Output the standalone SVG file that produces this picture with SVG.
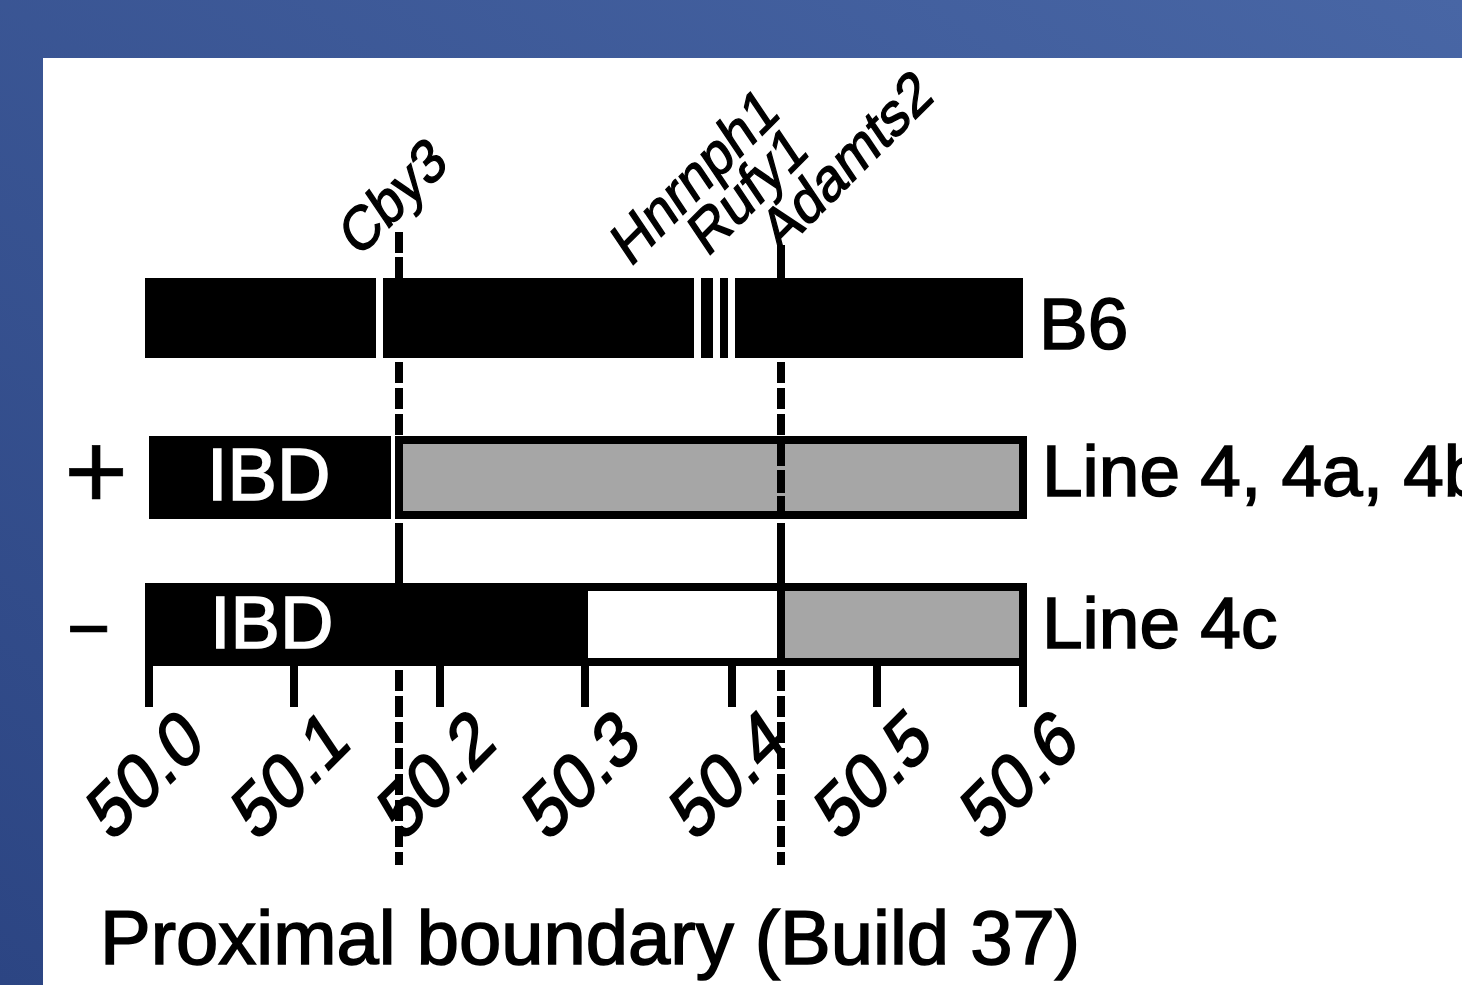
<svg xmlns="http://www.w3.org/2000/svg" width="1462" height="985" viewBox="0 0 1462 985">
  <defs>
    <linearGradient id="bg" x1="0" y1="1" x2="1" y2="0">
      <stop offset="0" stop-color="#2c4583"/>
      <stop offset="1" stop-color="#4866a5"/>
    </linearGradient>
  </defs>
  <style>
    .t { font-family: "Liberation Sans", Arial, sans-serif; fill: #000; stroke: #000; stroke-width: 1.6px; }
    .lab { font-size: 73px; }
    .ibd { font-size: 74px; fill: #fff; stroke: #fff; }
    .gene { font-size: 51px; stroke-width: 1.2px; }
    .tick { font-size: 64px; }
    .blk { fill: #000; }
    .gry { fill: #a6a6a6; }
    .wht { fill: #fff; }
    .vl { stroke: #000; stroke-width: 8; fill: none; }
    .dash { stroke-dasharray: 21 5; }
  </style>

  <rect x="0" y="0" width="1462" height="985" fill="url(#bg)"/>
  <rect x="43" y="58" width="1419" height="927" fill="#fff"/>

  <!-- B6 -->
  <g id="node-b6">
    <rect class="blk" x="145" y="278" width="878" height="80"/>
    <rect class="wht" x="376" y="278" width="7" height="80"/>
    <rect class="wht" x="694" y="278" width="7" height="80"/>
    <rect class="wht" x="713" y="278" width="7" height="80"/>
    <rect class="wht" x="728" y="278" width="7" height="80"/>
    <text class="t lab" x="1039" y="349">B6</text>
  </g>

  <!-- Line 4, 4a, 4b -->
  <g id="node-line4">
    <rect class="blk" x="149" y="436" width="242" height="83"/>
    <rect class="gry" x="399" y="440" width="624" height="75" stroke="#000" stroke-width="8"/>
    <text class="t ibd" x="207" y="500">IBD</text>
    <text class="t" x="64" y="509" font-size="110" style="stroke-width:0.5px">+</text>
    <text class="t lab" x="1042" y="496">Line 4, 4a, 4b</text>
  </g>

  <!-- Line 4c -->
  <g id="node-line4c">
    <rect class="wht" x="149" y="587" width="874" height="75" stroke="#000" stroke-width="8"/>
    <rect class="blk" x="145" y="583" width="443" height="83"/>
    <rect class="gry" x="785" y="591" width="234" height="67"/>
    <text class="t ibd" x="210" y="648">IBD</text>
    <text class="t" font-size="78" style="stroke-width:0.5px" transform="translate(64,650) scale(1.9,1)">-</text>
    <text class="t lab" x="1042" y="648">Line 4c</text>
  </g>

  <!-- connectors: marker lines -->
  <g id="connectors">
    <!-- Cby3 -->
    <line class="vl" x1="399" y1="232" x2="399" y2="253"/>
    <line class="vl" x1="399" y1="257" x2="399" y2="280"/>
    <line class="vl dash" x1="399" y1="362" x2="399" y2="436"/>
    <line class="vl" x1="399" y1="436" x2="399" y2="519"/>
    <line class="vl" x1="399" y1="523" x2="399" y2="585"/>
    <line class="vl dash" x1="399" y1="670" x2="399" y2="865"/>
    <!-- Adamts2 -->
    <line class="vl" x1="781" y1="245" x2="781" y2="280"/>
    <line class="vl dash" x1="781" y1="362" x2="781" y2="436"/>
    <line class="vl" x1="781" y1="436" x2="781" y2="444"/>
    <line class="vl" x1="781" y1="444" x2="781" y2="466"/>
    <line class="vl" x1="781" y1="470" x2="781" y2="493"/>
    <line class="vl" x1="781" y1="496" x2="781" y2="519"/>
    <line class="vl" x1="781" y1="523" x2="781" y2="666"/>
    <line class="vl dash" x1="781" y1="670" x2="781" y2="865"/>
  </g>

  <!-- gene labels -->
  <g id="genes">
    <text class="t gene" transform="translate(358,259) scale(1,1.22) rotate(-39.4)">Cby3</text>
    <text class="t gene" transform="translate(630,268) scale(1,1.22) rotate(-39.4)">Hnrnph1</text>
    <text class="t gene" transform="translate(707,258) scale(1,1.22) rotate(-39.4)">Rufy1</text>
    <text class="t gene" transform="translate(780,255) scale(1,1.22) rotate(-39.4)">Adamts2</text>
  </g>

  <!-- axis -->
  <g id="axis">
    <rect class="blk" x="145" y="662" width="8" height="45"/>
    <rect class="blk" x="290" y="662" width="8" height="45"/>
    <rect class="blk" x="436" y="662" width="8" height="45"/>
    <rect class="blk" x="581" y="662" width="8" height="45"/>
    <rect class="blk" x="728" y="662" width="8" height="45"/>
    <rect class="blk" x="873" y="662" width="8" height="45"/>
    <rect class="blk" x="1019" y="662" width="8" height="45"/>
    <text class="t tick" transform="translate(111,843) scale(1,1.22) rotate(-39.4)">50.0</text>
    <text class="t tick" transform="translate(256,843) scale(1,1.22) rotate(-39.4)">50.1</text>
    <text class="t tick" transform="translate(402,843) scale(1,1.22) rotate(-39.4)">50.2</text>
    <text class="t tick" transform="translate(547,843) scale(1,1.22) rotate(-39.4)">50.3</text>
    <text class="t tick" transform="translate(694,843) scale(1,1.22) rotate(-39.4)">50.4</text>
    <text class="t tick" transform="translate(839,843) scale(1,1.22) rotate(-39.4)">50.5</text>
    <text class="t tick" transform="translate(985,843) scale(1,1.22) rotate(-39.4)">50.6</text>
  </g>

  <text class="t" x="100" y="964" font-size="76">Proximal boundary (Build 37)</text>
</svg>
